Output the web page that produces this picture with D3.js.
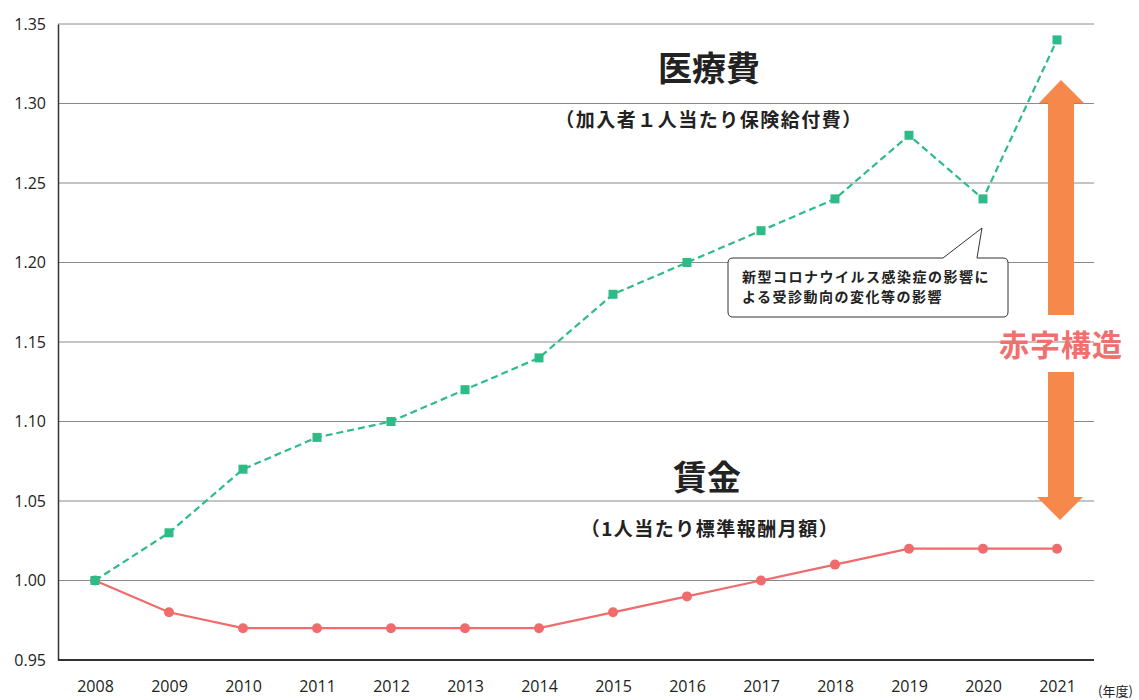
<!DOCTYPE html>
<html><head><meta charset="utf-8">
<script src="https://cdn.jsdelivr.net/npm/d3@7"></script>
<style>
body{margin:0;background:#fff;}
svg{display:block;}
</style></head>
<body>
<svg id="c" width="1139" height="700"></svg>
<script>
const years = [2008,2009,2010,2011,2012,2013,2014,2015,2016,2017,2018,2019,2020,2021];
const medical = [1.00,1.03,1.07,1.09,1.10,1.12,1.14,1.18,1.20,1.22,1.24,1.28,1.24,1.34];
const wages = [1.00,0.98,0.97,0.97,0.97,0.97,0.97,0.98,0.99,1.00,1.01,1.02,1.02,1.02];
const yTicks = [0.95,1.00,1.05,1.10,1.15,1.20,1.25,1.30,1.35];

(function(){
const svg = d3.select("#c");
const pL = 58, pR = 1094, pT = 24, pB = 660;
const x = d3.scaleLinear().domain([2008,2021]).range([95,1057]);
const y = d3.scaleLinear().domain([0.95,1.35]).range([pB, pT]);
const jp = "'Noto Sans CJK JP','Noto Sans',sans-serif";
const numFont = "'Open Sans','Noto Sans',sans-serif";

// grid
svg.append("g").selectAll("line").data(yTicks.filter(d=>d>0.95)).join("line")
  .attr("x1", pL).attr("x2", pR)
  .attr("y1", d=>y(d)).attr("y2", d=>y(d))
  .attr("stroke", "#8a8a8a").attr("stroke-width", 1);

// y axis
const yAxis = d3.axisLeft(y).tickValues(yTicks).tickFormat(d3.format(".2f")).tickSize(0).tickPadding(12);
const gy = svg.append("g").attr("transform", `translate(${pL},0)`).call(yAxis);
gy.select(".domain").attr("stroke", "#333").attr("stroke-width", 1.5);
gy.selectAll("text").attr("font-family", numFont).attr("font-size", 16).attr("fill", "#222");

// x axis
const xAxis = d3.axisBottom(x).tickValues(years).tickFormat(d3.format("d")).tickSize(0).tickPadding(21);
const gx = svg.append("g").attr("transform", `translate(0,${pB})`).call(xAxis);
gx.select(".domain").attr("d", `M${pL},0H${pR}`).attr("stroke", "#333").attr("stroke-width", 2);
gx.selectAll("text").attr("font-family", numFont).attr("font-size", 16).attr("fill", "#222");

svg.append("text").attr("x", 1098).attr("y", 696).text("(年度)")
  .attr("font-family", jp).attr("font-size", 13).attr("fill", "#222");

// lines
const line = d3.line().x((d,i)=>x(years[i])).y(d=>y(d));
svg.append("path").datum(wages).attr("d", line).attr("fill","none")
  .attr("stroke", "#f06b6b").attr("stroke-width", 2.2);
svg.append("path").datum(medical).attr("d", line).attr("fill","none")
  .attr("stroke", "#2dbb87").attr("stroke-width", 2.2).attr("stroke-dasharray", "7,4");

svg.append("g").selectAll("circle").data(wages).join("circle")
  .attr("cx", (d,i)=>x(years[i])).attr("cy", d=>y(d)).attr("r", 5).attr("fill", "#f06b6b");
svg.append("g").selectAll("rect").data(medical).join("rect")
  .attr("x", (d,i)=>x(years[i])-4.5).attr("y", d=>y(d)-4.5).attr("width", 9).attr("height", 9).attr("fill", "#2dbb87");

// titles
svg.append("text").attr("x", 709).attr("y", 81).attr("text-anchor","middle")
  .attr("font-family", jp).attr("font-weight", 700).attr("font-size", 34).attr("fill","#222").text("医療費");
svg.append("text").attr("x", 709).attr("y", 127).attr("text-anchor","middle")
  .attr("font-family", jp).attr("font-weight", 700).attr("font-size", 19).attr("letter-spacing", 1.5).attr("fill","#222").text("（加入者１人当たり保険給付費）");
svg.append("text").attr("x", 707).attr("y", 490).attr("text-anchor","middle")
  .attr("font-family", jp).attr("font-weight", 700).attr("font-size", 34).attr("fill","#222").text("賃金");
svg.append("text").attr("x", 710).attr("y", 536).attr("text-anchor","middle")
  .attr("font-family", jp).attr("font-weight", 700).attr("font-size", 19).attr("letter-spacing", 1.5).attr("fill","#222").text("（1人当たり標準報酬月額）");

// callout
const bx0 = 728, bx1 = 1008, by0 = 258, by1 = 317, r = 5;
const calloutPath = `M${bx0+r},${by0} H943 L982,228 L977,${by0} H${bx1-r} Q${bx1},${by0} ${bx1},${by0+r} V${by1-r} Q${bx1},${by1} ${bx1-r},${by1} H${bx0+r} Q${bx0},${by1} ${bx0},${by1-r} V${by0+r} Q${bx0},${by0} ${bx0+r},${by0} Z`;
svg.append("path").attr("d", calloutPath).attr("fill","#fff").attr("stroke","#333").attr("stroke-width",1);
svg.append("text").attr("x", 742).attr("y", 282).attr("font-family", jp).attr("font-weight",700)
  .attr("font-size", 14).attr("letter-spacing", 1.5).attr("fill","#222").text("新型コロナウイルス感染症の影響に");
svg.append("text").attr("x", 742).attr("y", 302).attr("font-family", jp).attr("font-weight",700)
  .attr("font-size", 14).attr("letter-spacing", 1.5).attr("fill","#222").text("よる受診動向の変化等の影響");

// arrows
const ac = "#f5884a";
svg.append("path").attr("fill", ac)
  .attr("d", "M1061,80 L1084,103 L1074,103 L1074,315 L1048,315 L1048,103 L1039,103 Z");
svg.append("path").attr("fill", ac)
  .attr("d", "M1048,372 L1074,372 L1074,497 L1083,497 L1060,520 L1037,497 L1048,497 Z");
svg.append("text").attr("x", 1061).attr("y", 356).attr("text-anchor","middle")
  .attr("font-family", jp).attr("font-weight",700).attr("font-size", 30).attr("letter-spacing", 1).attr("fill","#f07070").text("赤字構造");
})();
</script>
</body></html>
